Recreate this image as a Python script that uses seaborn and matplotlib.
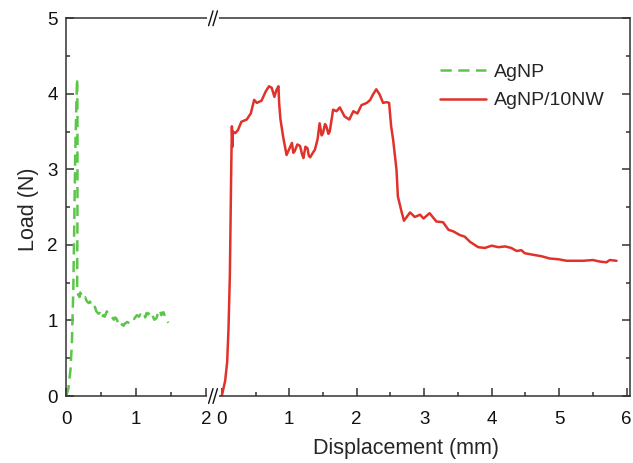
import matplotlib
matplotlib.use("Agg")
import matplotlib.pyplot as plt
from matplotlib.ticker import MultipleLocator
import pandas as pd
import seaborn as sns

# AgNP (left broken segment, displacement 0-2 mm)
agnp_x = [0.0, 0.03, 0.06, 0.08, 0.10, 0.11, 0.12, 0.13, 0.145, 0.155,
          0.16, 0.16, 0.155, 0.17, 0.19, 0.20, 0.22, 0.25, 0.27, 0.29,
          0.32, 0.34, 0.36, 0.39, 0.41, 0.43, 0.46, 0.48, 0.51, 0.53,
          0.55, 0.58, 0.60, 0.62, 0.65, 0.68, 0.70, 0.72, 0.75, 0.77,
          0.80, 0.82, 0.84, 0.87, 0.89, 0.91, 0.94, 0.97, 1.01, 1.04,
          1.06, 1.08, 1.11, 1.13, 1.15, 1.17, 1.20, 1.22, 1.24, 1.26,
          1.29, 1.31, 1.34, 1.36, 1.39, 1.41, 1.42, 1.44, 1.46]
agnp_y = [0.0, 0.10, 0.35, 0.70, 1.40, 2.00, 2.70, 3.30, 3.90, 4.20,
          3.70, 2.50, 1.40, 1.34, 1.31, 1.37, 1.33, 1.29, 1.31, 1.26,
          1.23, 1.25, 1.20, 1.16, 1.18, 1.12, 1.09, 1.10, 1.03, 1.07,
          1.05, 1.12, 1.09, 1.06, 1.05, 1.01, 1.04, 1.02, 0.95, 0.92,
          0.95, 0.93, 0.96, 0.98, 0.97, 1.01, 1.03, 1.02, 1.07, 1.05,
          1.08, 1.06, 1.09, 1.04, 1.10, 1.08, 1.12, 1.08, 1.05, 1.01,
          1.03, 1.09, 1.14, 1.07, 1.11, 1.06, 1.04, 1.00, 0.97]

# AgNP/10NW (right broken segment, displacement 0-6 mm)
nw_x = [0.0, 0.05, 0.08, 0.10, 0.12, 0.13, 0.14, 0.15, 0.16, 0.165,
        0.20, 0.24, 0.29, 0.37, 0.43, 0.48, 0.52, 0.59, 0.65, 0.70,
        0.74, 0.78, 0.81, 0.84, 0.85, 0.87, 0.91, 0.96, 1.00, 1.04,
        1.06, 1.08, 1.12, 1.16, 1.19, 1.21, 1.24, 1.27, 1.29, 1.31,
        1.35, 1.38, 1.42, 1.45, 1.48, 1.50, 1.53, 1.55, 1.58, 1.60,
        1.65, 1.70, 1.75, 1.82, 1.89, 1.95, 2.01, 2.07, 2.15, 2.20,
        2.24, 2.29, 2.34, 2.39, 2.44, 2.48, 2.51, 2.54, 2.59, 2.61,
        2.67, 2.70, 2.79, 2.86, 2.94, 2.99, 3.08, 3.18, 3.28, 3.36,
        3.43, 3.53, 3.60, 3.68, 3.80, 3.90, 4.00, 4.10, 4.20, 4.29,
        4.37, 4.44, 4.49, 4.61, 4.74, 4.86, 4.99, 5.11, 5.26, 5.36,
        5.50, 5.60, 5.70, 5.75, 5.85]
nw_y = [0.0, 0.20, 0.45, 0.90, 1.60, 2.30, 3.00, 3.57, 3.30, 3.50,
        3.48, 3.52, 3.63, 3.66, 3.74, 3.92, 3.88, 3.91, 4.03, 4.10,
        4.08, 3.96, 4.05, 4.10, 3.88, 3.66, 3.43, 3.19, 3.27, 3.35,
        3.22, 3.24, 3.33, 3.31, 3.20, 3.15, 3.30, 3.28, 3.18, 3.16,
        3.22, 3.26, 3.40, 3.61, 3.45, 3.48, 3.60, 3.57, 3.47, 3.50,
        3.79, 3.77, 3.82, 3.70, 3.66, 3.77, 3.74, 3.85, 3.88, 3.92,
        3.99, 4.06, 3.99, 3.88, 3.89, 3.88, 3.57, 3.39, 2.99, 2.64,
        2.42, 2.32, 2.43, 2.37, 2.40, 2.35, 2.42, 2.31, 2.30, 2.20,
        2.18, 2.13, 2.11, 2.04, 1.97, 1.96, 1.99, 1.97, 1.98, 1.96,
        1.92, 1.93, 1.89, 1.87, 1.85, 1.82, 1.81, 1.79, 1.79, 1.79,
        1.80, 1.78, 1.77, 1.80, 1.79]

green = '#5cc64a'
red = '#e0322a'
spine_col = '#333333'

sns.set_theme(style="ticks")
plt.rcParams['font.family'] = ['Liberation Sans', 'DejaVu Sans']

fig = plt.figure(figsize=(6.33, 4.63), dpi=100)
ax1 = fig.add_axes([66.3 / 633, 0.1447, (213 - 66.3) / 633, 0.8158])
ax2 = fig.add_axes([213 / 633, 0.1447, (630 - 213) / 633, 0.8158])

df1 = pd.DataFrame({'x': agnp_x, 'y': agnp_y})
df2 = pd.DataFrame({'x': nw_x, 'y': nw_y})

sns.lineplot(data=df1, x='x', y='y', ax=ax1, sort=False, estimator=None,
             color=green, linewidth=1.8, label='AgNP')
ax1.lines[-1].set_dashes((4.5, 2.6))
sns.lineplot(data=df2, x='x', y='y', ax=ax2, sort=False, estimator=None,
             color=red, linewidth=1.8, label='AgNP/10NW')

ax1.set_xlim(0, 2.1)
ax2.set_xlim(-0.13, 6.05)
for ax in (ax1, ax2):
    ax.set_ylim(0, 5)
    ax.set_xlabel('')
    ax.set_ylabel('')
    ax.xaxis.set_major_locator(MultipleLocator(1))
    ax.xaxis.set_minor_locator(MultipleLocator(0.5))
    ax.yaxis.set_major_locator(MultipleLocator(1))
    ax.yaxis.set_minor_locator(MultipleLocator(0.5))
    ax.tick_params(which='major', direction='in', length=6, width=1.1,
                   color=spine_col, labelsize=13.5, labelcolor='#111111', pad=6)
    ax.tick_params(axis='x', which='major', pad=11)
    ax.tick_params(which='minor', direction='in', length=3, width=1.1,
                   color=spine_col)
    for s in ax.spines.values():
        s.set_color(spine_col)
        s.set_linewidth(1.1)
    if ax.get_legend() is not None:
        ax.get_legend().remove()

ax1.spines['right'].set_visible(False)
ax1.tick_params(axis='y', which='both', left=True, right=False)
ax2.spines['left'].set_visible(False)
ax2.tick_params(axis='y', which='both', left=False, right=True, labelright=False, labelleft=False)

# break marks
for yb in (0.1447, 0.1447 + 0.8158):
    xb = 213 / 633
    fig.add_artist(plt.Line2D([xb - 0.007, xb + 0.007], [yb, yb],
                              color='white', linewidth=3))
    for dx in (-0.0035, 0.0035):
        fig.add_artist(plt.Line2D([xb + dx - 0.0035, xb + dx + 0.0035],
                                  [yb - 0.016, yb + 0.016],
                                  color='#111111', linewidth=1.0))

handles = ax1.get_lines()[:1] + ax2.get_lines()[:1]
fig.legend(handles, ['AgNP', 'AgNP/10NW'], loc='upper left',
           bbox_to_anchor=(422 / 633, 1 - 46 / 463), frameon=False,
           fontsize=14, handlelength=2.4, handletextpad=0.4, labelspacing=0.55)

fig.text(406 / 633, 0.008, 'Displacement (mm)', ha='center', va='bottom', fontsize=15.5)
fig.text(0.028, 0.548, 'Load (N)', ha='left', va='center', rotation=90, fontsize=15.5)

fig.savefig('out.png', dpi=100)
